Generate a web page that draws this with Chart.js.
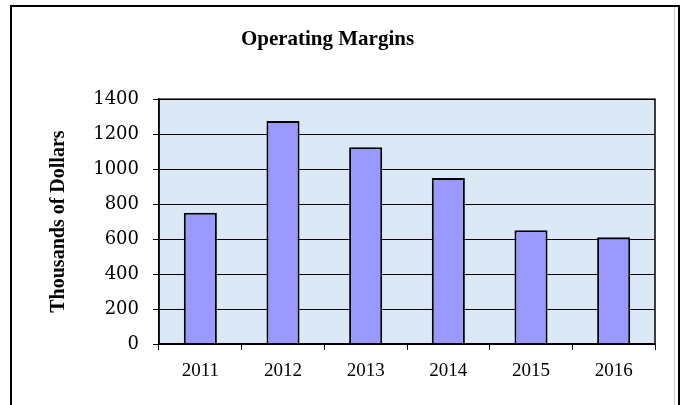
<!DOCTYPE html>
<html lang="en">
<head>
    <meta charset="UTF-8">
    <title>Operating Margins</title>
    <script src="https://cdn.jsdelivr.net/npm/chart.js"></script>
    <style>
        body {
            margin: 0;
            background-color: #fff;
        }
        canvas {
            display: block;
        }
    </style>
</head>
<body>
    <canvas id="barChart" width="684" height="405"></canvas>

    <script>
        // data
        const years = ['2011', '2012', '2013', '2014', '2015', '2016'];
        const margins = [750, 1275, 1125, 950, 650, 610];
        const yTicks = [0, 200, 400, 600, 800, 1000, 1200, 1400];

        // outer frame + light blue plot background
        const framePlugin = {
            id: 'frame',
            beforeDraw(chart) {
                const ctx = chart.ctx;
                const a = chart.chartArea;
                ctx.save();
                ctx.fillStyle = '#fff';
                ctx.fillRect(0, 0, chart.width, chart.height);
                ctx.strokeStyle = '#000';
                ctx.lineWidth = 2;
                ctx.strokeRect(11, 6, 668, 410);
                ctx.strokeStyle = '#c8c8c8';
                ctx.lineWidth = 1;
                ctx.beginPath();
                ctx.moveTo(674.5, 7);
                ctx.lineTo(674.5, 405);
                ctx.stroke();
                ctx.fillStyle = '#dbe8f6';
                ctx.fillRect(a.left, a.top, a.right - a.left, a.bottom - a.top);
                ctx.restore();
            },
            afterDatasetsDraw(chart) {
                const ctx = chart.ctx;
                const a = chart.chartArea;
                ctx.save();
                ctx.strokeStyle = '#000';
                ctx.lineWidth = 1.5;
                ctx.strokeRect(a.left, a.top, a.right - a.left, a.bottom - a.top);
                ctx.restore();
            }
        };

        new Chart(document.getElementById('barChart').getContext('2d'), {
            type: 'bar',
            data: {
                labels: years,
                datasets: [{
                    label: 'Operating Margins',
                    data: margins,
                    backgroundColor: '#9999ff',
                    borderColor: '#000',
                    borderWidth: 2,
                    barPercentage: 0.4,
                    categoryPercentage: 1
                }]
            },
            options: {
                responsive: false,
                animation: false,
                layout: {
                    padding: { left: 0, right: 29, top: 6, bottom: 0 }
                },
                plugins: {
                    legend: { display: false },
                    tooltip: { enabled: false },
                    title: {
                        display: true,
                        text: 'Operating Margins',
                        color: '#000',
                        font: { family: "'Liberation Serif', serif", size: 21, weight: 'bold' },
                        padding: { top: 21, bottom: 47 }
                    }
                },
                scales: {
                    x: {
                        grid: {
                            offset: true,
                            drawOnChartArea: false,
                            drawTicks: true,
                            tickLength: 6,
                            color: '#000'
                        },
                        border: { color: '#000', width: 1.5 },
                        ticks: {
                            color: '#000',
                            padding: 10,
                            font: { family: "'Liberation Serif', serif", size: 19 }
                        },
                        afterFit(scale) {
                            scale.height = 61;
                        }
                    },
                    y: {
                        min: 0,
                        max: 1400,
                        afterBuildTicks(scale) {
                            scale.ticks = yTicks.map(v => ({ value: v }));
                        },
                        grid: {
                            color: '#000',
                            lineWidth: 1,
                            tickLength: 6
                        },
                        border: { color: '#000', width: 1.5 },
                        ticks: {
                            color: '#000',
                            padding: 14,
                            font: { family: "'DejaVu Serif', serif", size: 18 },
                            callback: v => String(v)
                        },
                        title: {
                            display: true,
                            text: 'Thousands of Dollars',
                            color: '#000',
                            font: { family: "'Liberation Serif', serif", size: 20, weight: 'bold' },
                            padding: { top: 47 }
                        },
                        afterFit(scale) {
                            scale.width = 159;
                        }
                    }
                }
            },
            plugins: [framePlugin]
        });
    </script>
</body>
</html>
